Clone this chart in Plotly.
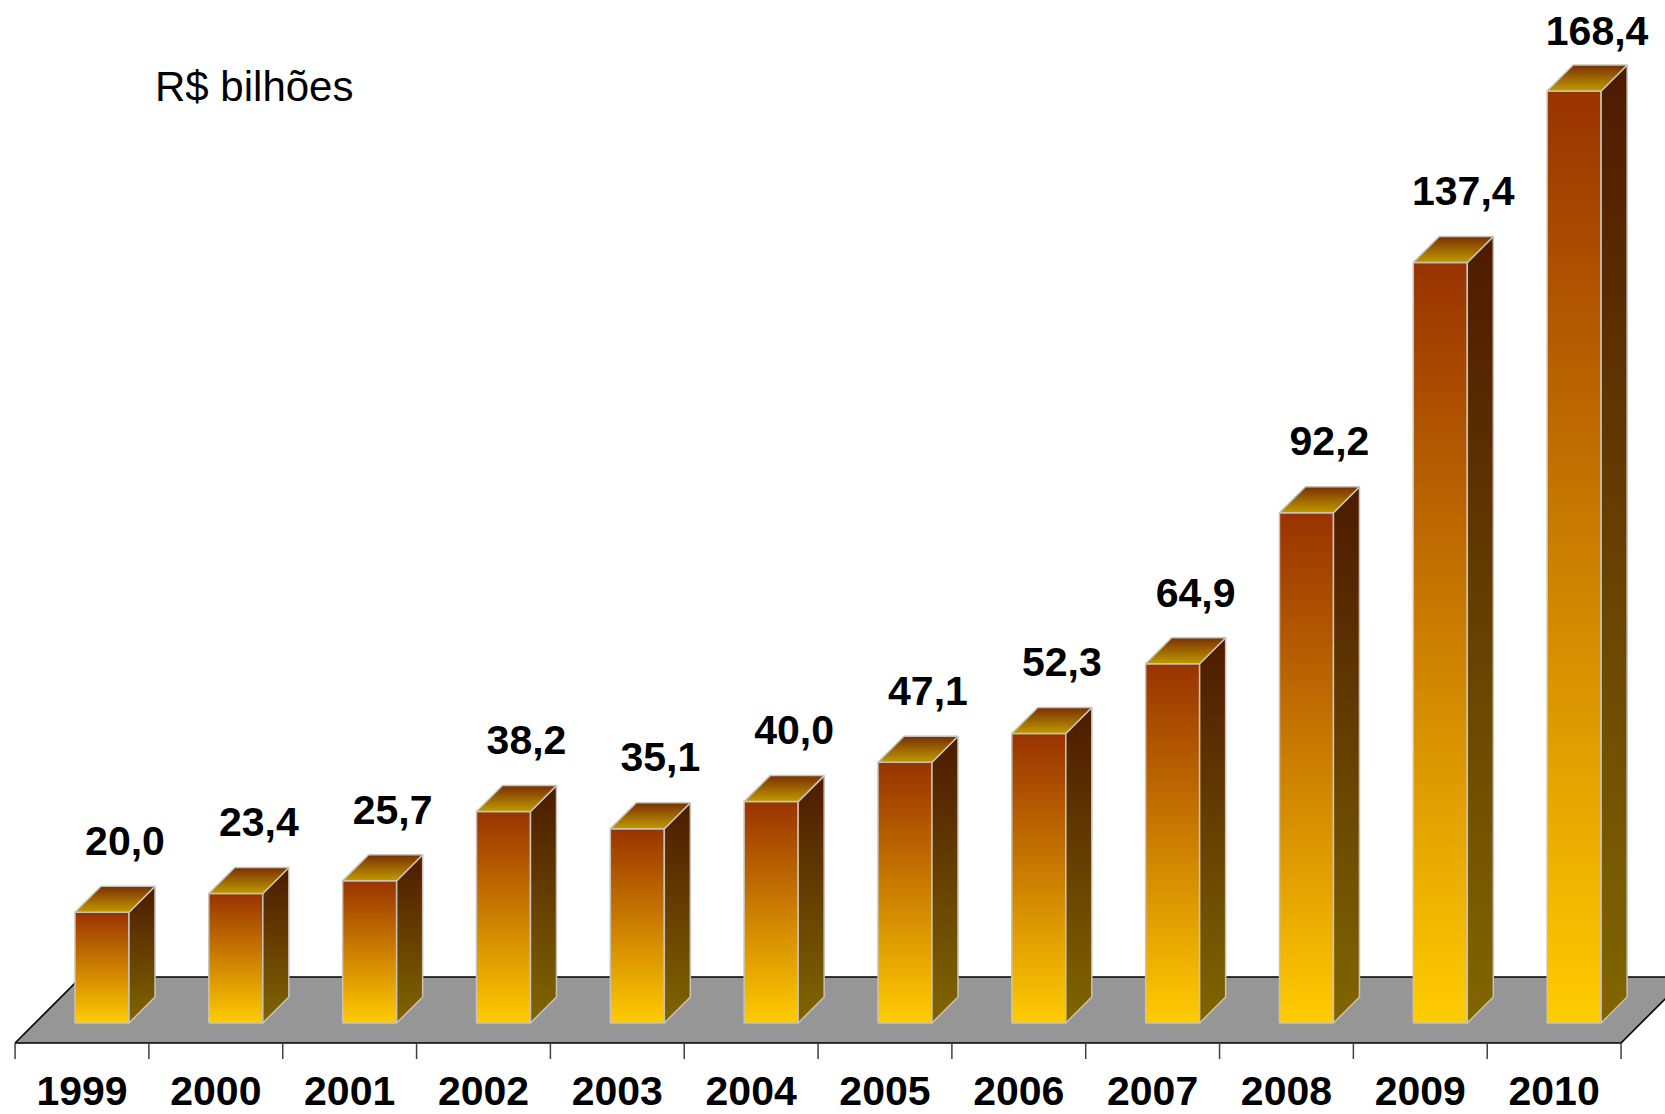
import plotly.graph_objects as go

# ---------------- data ----------------
years = ["1999", "2000", "2001", "2002", "2003", "2004", "2005", "2006",
         "2007", "2008", "2009", "2010"]
values = [20.0, 23.4, 25.7, 38.2, 35.1, 40.0, 47.1, 52.3, 64.9, 92.2, 137.4, 168.4]
value_labels = ["20,0", "23,4", "25,7", "38,2", "35,1", "40,0", "47,1", "52,3",
                "64,9", "92,2", "137,4", "168,4"]
unit_label = "R$ bilhões"

# ---------------- geometry / style ----------------
W, H = 1665, 1114
X0_PX = 82          # pixel of first category centre
X_STEP = 133.83     # pixels per category
Y0_PX = 1043        # pixel of value 0 on the floor front edge
PX_PER_VAL = 5.535  # pixels per unit value

def dxu(px):
    return px / X_STEP

def dyu(px):
    return px / PX_PER_VAL

x_range = [-X0_PX / X_STEP, (W - X0_PX) / X_STEP]
y_range = [-(H - Y0_PX) / PX_PER_VAL, Y0_PX / PX_PER_VAL]

FLOOR_DEPTH = 66
BAR_D1, BAR_D2 = 20, 46
BAR_HALF = 27

FONT = "Liberation Sans, Arial, sans-serif"
EDGE = "#C8C2B8"

fig = go.Figure()

# floor
n = len(years)
fx = [-0.5, n - 0.5, n - 0.5 + dxu(FLOOR_DEPTH), -0.5 + dxu(FLOOR_DEPTH), -0.5]
fy = [0, 0, dyu(FLOOR_DEPTH), dyu(FLOOR_DEPTH), 0]
fig.add_trace(go.Scatter(x=fx, y=fy, mode="lines", fill="toself",
                         fillcolor="#969696", line=dict(color="#000000", width=1.6),
                         hoverinfo="skip", showlegend=False))

# ticks
tx, ty = [], []
for k in range(n + 1):
    tx += [-0.5 + k, -0.5 + k, None]
    ty += [0, -dyu(16), None]
fig.add_trace(go.Scatter(x=tx, y=ty, mode="lines", line=dict(color="#404040", width=1.5),
                         hoverinfo="skip", showlegend=False))

# bars
for i, v in enumerate(values):
    xl1 = i + dxu(-BAR_HALF + BAR_D1)
    xr1 = i + dxu(BAR_HALF + BAR_D1)
    xl2 = i + dxu(-BAR_HALF + BAR_D2)
    xr2 = i + dxu(BAR_HALF + BAR_D2)
    yb1, yt1 = dyu(BAR_D1), v + dyu(BAR_D1)
    yb2, yt2 = dyu(BAR_D2), v + dyu(BAR_D2)

    # front face
    fig.add_trace(go.Scatter(
        x=[xl1, xr1, xr1, xl1, xl1], y=[yb1, yb1, yt1, yt1, yb1],
        mode="lines", fill="toself", line=dict(color=EDGE, width=1.5),
        fillgradient=dict(type="vertical", start=yb1, stop=yt1,
                          colorscale=[[0, "#FFCC00"], [1, "#993300"]]),
        hoverinfo="skip", showlegend=False))
    # side face
    fig.add_trace(go.Scatter(
        x=[xr1, xr2, xr2, xr1, xr1], y=[yb1, yb2, yt2, yt1, yb1],
        mode="lines", fill="toself", line=dict(color=EDGE, width=1.5),
        fillgradient=dict(type="vertical", start=yb1, stop=yt2,
                          colorscale=[[0, "#806600"], [1, "#4D1A00"]]),
        hoverinfo="skip", showlegend=False))
    # top face
    fig.add_trace(go.Scatter(
        x=[xl1, xr1, xr2, xl2, xl1], y=[yt1, yt1, yt2, yt2, yt1],
        mode="lines", fill="toself", line=dict(color=EDGE, width=1.5),
        fillgradient=dict(type="vertical", start=yt1, stop=yt2,
                          colorscale=[[0, "#C09A00"], [1, "#7A3000"]]),
        hoverinfo="skip", showlegend=False))

# value labels
label_cap = (Y0_PX - 35) / PX_PER_VAL
lx = [i + dxu(43) for i in range(n)]
ly = [min(v + dyu(87.5), label_cap) for v in values]
fig.add_trace(go.Scatter(
    x=lx, y=ly, mode="text", text=["<b>%s</b>" % t for t in value_labels],
    textposition="middle center",
    textfont=dict(family=FONT, size=41, color="#000000"),
    hoverinfo="skip", showlegend=False, cliponaxis=False))

# year labels
fig.add_trace(go.Scatter(
    x=list(range(n)), y=[-dyu(1095 - Y0_PX)] * n, mode="text",
    text=["<b>%s</b>" % y for y in years], textposition="middle center",
    textfont=dict(family=FONT, size=41, color="#000000"),
    hoverinfo="skip", showlegend=False, cliponaxis=False))

fig.add_annotation(text=unit_label, x=153 / W, y=1 - 87 / H, xref="paper", yref="paper",
                   xanchor="left", yanchor="middle", showarrow=False,
                   font=dict(family=FONT, size=42, color="#000000"))

fig.update_layout(
    width=W, height=H, margin=dict(l=0, r=0, t=0, b=0),
    paper_bgcolor="white", plot_bgcolor="white",
    xaxis=dict(range=x_range, visible=False, fixedrange=True),
    yaxis=dict(range=y_range, visible=False, fixedrange=True),
)

fig.write_html("out.html", config={"displayModeBar": False},
               post_script="document.body.style.margin='0';document.body.style.overflow='hidden';")
